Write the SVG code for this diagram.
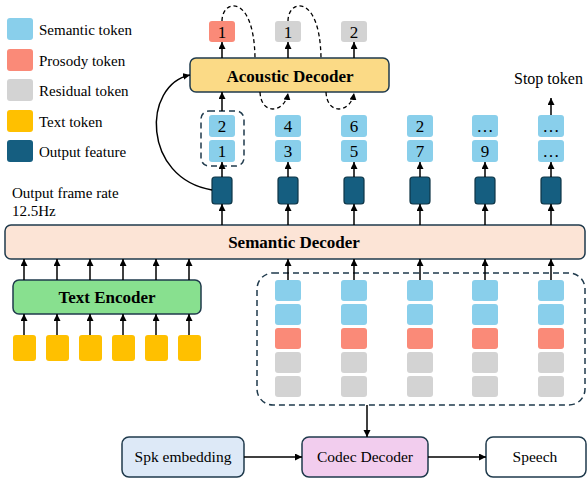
<svg xmlns="http://www.w3.org/2000/svg" width="587" height="481" viewBox="0 0 587 481">
<defs>
<marker id="ah" markerUnits="userSpaceOnUse" markerWidth="8" markerHeight="8" refX="7" refY="3.5" orient="auto">
<path d="M0,0 L7,3.5 L0,7 z" fill="#000"/>
</marker>
<style>
.t{font-family:"Liberation Serif","Times New Roman",serif;fill:#000}
.lg{font-size:15px}
.bx{font-size:15.5px;text-anchor:middle}
.num{font-size:17px;text-anchor:middle}
.bold{font-size:17px;font-weight:bold;text-anchor:middle}
.box{stroke:#1f3a4c;stroke-width:1.5}
.sem{fill:#89CFEB}
.pro{fill:#FA8A78}
.res{fill:#D3D3D3}
.txt{fill:#FFC000}
.feat{fill:#155E80;stroke:#0E3546;stroke-width:1.2}
.arr{stroke:#000;stroke-width:1.5;fill:none;marker-end:url(#ah)}
.dash{stroke:#000;stroke-width:1.3;fill:none;stroke-dasharray:4 3}
.dbox{stroke:#1f3a4c;stroke-width:1.5;fill:none;stroke-dasharray:6 4}
</style>
</defs>
<rect width="587" height="481" fill="#fff"/>

<g id="legend">
<rect x="7" y="18" width="26" height="22" rx="3" class="sem"/>
<text x="39" y="35" class="t lg">Semantic token</text>
<rect x="7" y="49" width="26" height="22" rx="3" class="pro"/>
<text x="39" y="66" class="t lg">Prosody token</text>
<rect x="7" y="79" width="26" height="22" rx="3" class="res"/>
<text x="39" y="96" class="t lg">Residual token</text>
<rect x="7" y="110" width="26" height="22" rx="3" class="txt"/>
<text x="39" y="127" class="t lg">Text token</text>
<rect x="7" y="140" width="26" height="22" rx="3" fill="#155E80"/>
<text x="39" y="157" class="t lg">Output feature</text>
</g>

<g id="frame-rate-label">
<text x="12" y="198" class="t lg">Output frame rate</text>
<text x="12" y="216" class="t lg">12.5Hz</text>
</g>

<g id="acoustic-decoder">
<rect x="190" y="58" width="199" height="34" rx="6" fill="#FBDA86" class="box"/>
<text x="290" y="82" class="t bold">Acoustic Decoder</text>
</g>

<g id="acoustic-outputs">
<rect x="209" y="21" width="26" height="21" rx="3" class="pro"/>
<text x="222" y="38" class="t num">1</text>
<rect x="275" y="21" width="26" height="21" rx="3" class="res"/>
<text x="288" y="38" class="t num">1</text>
<rect x="341" y="21" width="26" height="21" rx="3" class="res"/>
<text x="354" y="38" class="t num">2</text>
</g>

<g id="semantic-tokens-out">
<rect x="201" y="111" width="43" height="55" rx="8" class="dbox"/>
<rect x="209" y="115" width="26" height="22" rx="3" class="sem"/>
<text x="222" y="132" class="t num">2</text>
<rect x="209" y="140" width="26" height="22" rx="3" class="sem"/>
<text x="222" y="157" class="t num">1</text>
<rect x="275" y="115" width="26" height="22" rx="3" class="sem"/>
<text x="288" y="132" class="t num">4</text>
<rect x="275" y="140" width="26" height="22" rx="3" class="sem"/>
<text x="288" y="157" class="t num">3</text>
<rect x="341" y="115" width="26" height="22" rx="3" class="sem"/>
<text x="354" y="132" class="t num">6</text>
<rect x="341" y="140" width="26" height="22" rx="3" class="sem"/>
<text x="354" y="157" class="t num">5</text>
<rect x="407" y="115" width="26" height="22" rx="3" class="sem"/>
<text x="420" y="132" class="t num">2</text>
<rect x="407" y="140" width="26" height="22" rx="3" class="sem"/>
<text x="420" y="157" class="t num">7</text>
<rect x="472" y="115" width="26" height="22" rx="3" class="sem"/>
<text x="485" y="132" class="t num">…</text>
<rect x="472" y="140" width="26" height="22" rx="3" class="sem"/>
<text x="485" y="157" class="t num">9</text>
<rect x="538" y="115" width="26" height="22" rx="3" class="sem"/>
<text x="551" y="132" class="t num">…</text>
<rect x="538" y="140" width="26" height="22" rx="3" class="sem"/>
<text x="551" y="157" class="t num">…</text>
</g>

<g id="output-features">
<rect x="212" y="177" width="20" height="27" rx="3" class="feat"/>
<rect x="278" y="177" width="20" height="27" rx="3" class="feat"/>
<rect x="344" y="177" width="20" height="27" rx="3" class="feat"/>
<rect x="410" y="177" width="20" height="27" rx="3" class="feat"/>
<rect x="475" y="177" width="20" height="27" rx="3" class="feat"/>
<rect x="541" y="177" width="20" height="27" rx="3" class="feat"/>
</g>

<g id="stop-token">
<text x="514" y="84" class="t" font-size="16">Stop token</text>
</g>

<g id="semantic-decoder">
<rect x="5" y="225" width="580" height="34" rx="6" fill="#FCE4D6" class="box"/>
<text x="294" y="248" class="t bold">Semantic Decoder</text>
</g>

<g id="text-encoder">
<rect x="13" y="280" width="188" height="34" rx="6" fill="#88E08F" class="box"/>
<text x="107" y="303" class="t bold">Text Encoder</text>
</g>

<g id="text-tokens">
<rect x="13" y="335" width="23" height="26" rx="3" class="txt"/>
<rect x="46" y="335" width="23" height="26" rx="3" class="txt"/>
<rect x="79" y="335" width="23" height="26" rx="3" class="txt"/>
<rect x="112" y="335" width="23" height="26" rx="3" class="txt"/>
<rect x="145" y="335" width="23" height="26" rx="3" class="txt"/>
<rect x="178" y="335" width="23" height="26" rx="3" class="txt"/>
</g>

<g id="token-stack">
<rect x="257" y="273" width="328" height="132" rx="16" class="dbox"/>
<g>
<rect x="275" y="280" width="26" height="21" rx="3" class="sem"/>
<rect x="275" y="304" width="26" height="21" rx="3" class="sem"/>
<rect x="275" y="328" width="26" height="21" rx="3" class="pro"/>
<rect x="275" y="352" width="26" height="21" rx="3" class="res"/>
<rect x="275" y="376" width="26" height="21" rx="3" class="res"/>
</g>
<g>
<rect x="341" y="280" width="26" height="21" rx="3" class="sem"/>
<rect x="341" y="304" width="26" height="21" rx="3" class="sem"/>
<rect x="341" y="328" width="26" height="21" rx="3" class="pro"/>
<rect x="341" y="352" width="26" height="21" rx="3" class="res"/>
<rect x="341" y="376" width="26" height="21" rx="3" class="res"/>
</g>
<g>
<rect x="407" y="280" width="26" height="21" rx="3" class="sem"/>
<rect x="407" y="304" width="26" height="21" rx="3" class="sem"/>
<rect x="407" y="328" width="26" height="21" rx="3" class="pro"/>
<rect x="407" y="352" width="26" height="21" rx="3" class="res"/>
<rect x="407" y="376" width="26" height="21" rx="3" class="res"/>
</g>
<g>
<rect x="472" y="280" width="26" height="21" rx="3" class="sem"/>
<rect x="472" y="304" width="26" height="21" rx="3" class="sem"/>
<rect x="472" y="328" width="26" height="21" rx="3" class="pro"/>
<rect x="472" y="352" width="26" height="21" rx="3" class="res"/>
<rect x="472" y="376" width="26" height="21" rx="3" class="res"/>
</g>
<g>
<rect x="538" y="280" width="26" height="21" rx="3" class="sem"/>
<rect x="538" y="304" width="26" height="21" rx="3" class="sem"/>
<rect x="538" y="328" width="26" height="21" rx="3" class="pro"/>
<rect x="538" y="352" width="26" height="21" rx="3" class="res"/>
<rect x="538" y="376" width="26" height="21" rx="3" class="res"/>
</g>
</g>

<g id="spk-embedding">
<rect x="122" y="437" width="122" height="40" rx="7" fill="#DDE9F7" class="box"/>
<text x="183" y="462" class="t bx">Spk embedding</text>
</g>
<g id="codec-decoder">
<rect x="302" y="437" width="126" height="40" rx="7" fill="#F2CDEE" class="box"/>
<text x="365" y="462" class="t bx">Codec Decoder</text>
</g>
<g id="speech">
<rect x="486" y="437" width="100" height="40" rx="7" fill="#fff" class="box"/>
<text x="535" y="462" class="t bx">Speech</text>
</g>

<g id="connectors">
<line x1="222" y1="58" x2="222" y2="42" class="arr"/>
<line x1="288" y1="58" x2="288" y2="42" class="arr"/>
<line x1="354" y1="58" x2="354" y2="42" class="arr"/>
<path d="M222,21 C222,-1 254,-7 255,58" class="dash"/>
<path d="M260,92 C261,116 285,113 288,93" class="dash" marker-end="url(#ah)"/>
<path d="M288,21 C288,-1 320,-7 321,58" class="dash"/>
<path d="M326,92 C327,116 351,113 354,93" class="dash" marker-end="url(#ah)"/>
<line x1="222" y1="111" x2="222" y2="92" class="arr"/>
<path d="M212,190 C142,178 142,85 190,75" class="arr"/>
<line x1="222" y1="177" x2="222" y2="162" class="arr"/>
<line x1="288" y1="177" x2="288" y2="162" class="arr"/>
<line x1="354" y1="177" x2="354" y2="162" class="arr"/>
<line x1="420" y1="177" x2="420" y2="162" class="arr"/>
<line x1="485" y1="177" x2="485" y2="162" class="arr"/>
<line x1="551" y1="177" x2="551" y2="162" class="arr"/>
<line x1="551" y1="115" x2="551" y2="98" class="arr"/>
<line x1="222" y1="225" x2="222" y2="204" class="arr"/>
<line x1="288" y1="225" x2="288" y2="204" class="arr"/>
<line x1="354" y1="225" x2="354" y2="204" class="arr"/>
<line x1="420" y1="225" x2="420" y2="204" class="arr"/>
<line x1="485" y1="225" x2="485" y2="204" class="arr"/>
<line x1="551" y1="225" x2="551" y2="204" class="arr"/>
<line x1="24" y1="280" x2="24" y2="259" class="arr"/>
<line x1="57" y1="280" x2="57" y2="259" class="arr"/>
<line x1="90" y1="280" x2="90" y2="259" class="arr"/>
<line x1="123" y1="280" x2="123" y2="259" class="arr"/>
<line x1="156" y1="280" x2="156" y2="259" class="arr"/>
<line x1="189" y1="280" x2="189" y2="259" class="arr"/>
<line x1="24" y1="335" x2="24" y2="314" class="arr"/>
<line x1="57" y1="335" x2="57" y2="314" class="arr"/>
<line x1="90" y1="335" x2="90" y2="314" class="arr"/>
<line x1="123" y1="335" x2="123" y2="314" class="arr"/>
<line x1="156" y1="335" x2="156" y2="314" class="arr"/>
<line x1="189" y1="335" x2="189" y2="314" class="arr"/>
<line x1="288" y1="280" x2="288" y2="259" class="arr"/>
<line x1="354" y1="280" x2="354" y2="259" class="arr"/>
<line x1="420" y1="280" x2="420" y2="259" class="arr"/>
<line x1="485" y1="280" x2="485" y2="259" class="arr"/>
<line x1="551" y1="280" x2="551" y2="259" class="arr"/>
<line x1="367" y1="405" x2="367" y2="437" class="arr"/>
<line x1="244" y1="457" x2="302" y2="457" class="arr"/>
<line x1="428" y1="457" x2="486" y2="457" class="arr"/>
</g>
</svg>
